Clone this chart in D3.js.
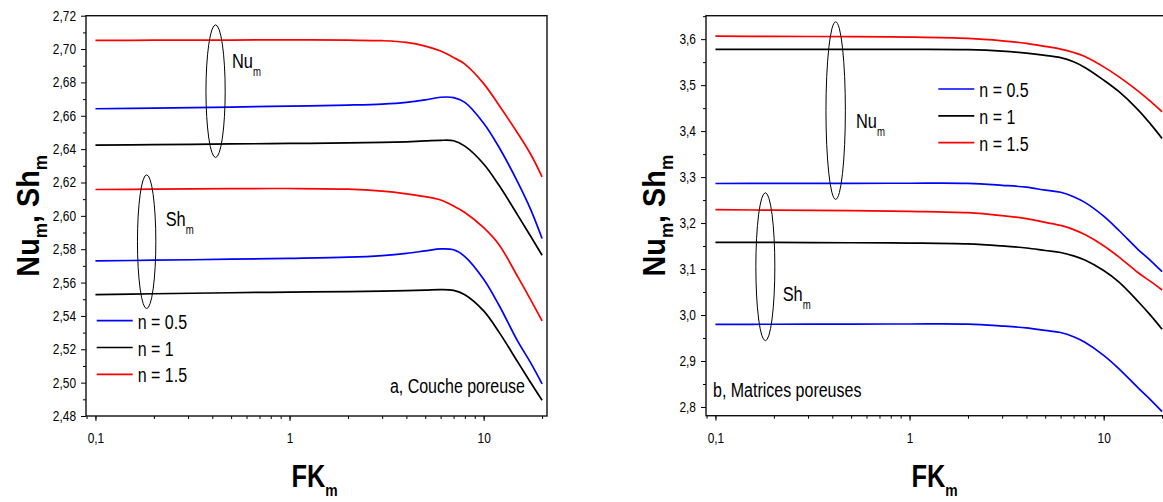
<!DOCTYPE html>
<html>
<head>
<meta charset="utf-8">
<script src="https://cdn.jsdelivr.net/npm/d3@7"></script>
<style>
  body { margin: 0; background: #fff; }
  svg { display: block; font-family: "Liberation Sans", Arial, sans-serif; }
</style>
</head>
<body>
<div id="chart"></div>
<script>
// FK_m sample points (x axis, log scale)
const fkValues = [0.1, 0.2, 0.5, 1, 2, 3, 4, 5, 6, 7, 8, 10, 12, 15, 17.5, 20];

// panel a, Couche poreuse
const nuA_05 = [2.6642, 2.6646, 2.6652, 2.6658, 2.6664, 2.6670, 2.6680, 2.6695, 2.6711, 2.6709, 2.6680, 2.6555, 2.6411, 2.6201, 2.6036, 2.5864];
const nuA_1  = [2.6424, 2.6427, 2.6431, 2.6434, 2.6437, 2.6440, 2.6444, 2.6449, 2.6453, 2.6450, 2.6418, 2.6311, 2.6183, 2.6003, 2.5876, 2.5764];
const nuA_15 = [2.7052, 2.7053, 2.7054, 2.7055, 2.7053, 2.7050, 2.7040, 2.7018, 2.6988, 2.6949, 2.6910, 2.6793, 2.6663, 2.6494, 2.6368, 2.6234];
const shA_05 = [2.5730, 2.5734, 2.5740, 2.5745, 2.5752, 2.5762, 2.5775, 2.5790, 2.5802, 2.5797, 2.5756, 2.5620, 2.5464, 2.5247, 2.5117, 2.4993];
const shA_1  = [2.5528, 2.5533, 2.5539, 2.5543, 2.5546, 2.5549, 2.5552, 2.5555, 2.5558, 2.5553, 2.5527, 2.5430, 2.5303, 2.5123, 2.4999, 2.4894];
const shA_15 = [2.6158, 2.6160, 2.6163, 2.6164, 2.6160, 2.6148, 2.6132, 2.6115, 2.6095, 2.6059, 2.6020, 2.5929, 2.5827, 2.5634, 2.5495, 2.5370];

// panel b, Matrices poreuses
const nuB_05 = [3.2860, 3.2862, 3.2864, 3.2866, 3.2862, 3.2820, 3.2780, 3.2715, 3.2670, 3.2574, 3.2450, 3.2150, 3.1838, 3.1430, 3.1180, 3.0942];
const nuB_1  = [3.5776, 3.5776, 3.5776, 3.5776, 3.5770, 3.5740, 3.5697, 3.5648, 3.5598, 3.5508, 3.5385, 3.5110, 3.4857, 3.4469, 3.4147, 3.3840];
const nuB_15 = [3.6065, 3.6060, 3.6055, 3.6045, 3.6015, 3.5963, 3.5907, 3.5841, 3.5784, 3.5710, 3.5622, 3.5397, 3.5180, 3.4875, 3.4640, 3.4420];
const shB_05 = [2.9797, 2.9799, 2.9802, 2.9805, 2.9802, 2.9760, 2.9719, 2.9664, 2.9619, 2.9528, 2.9406, 2.9123, 2.8830, 2.8420, 2.8150, 2.7900];
const shB_1  = [3.1580, 3.1578, 3.1572, 3.1565, 3.1546, 3.1502, 3.1458, 3.1403, 3.1359, 3.1286, 3.1195, 3.0967, 3.0715, 3.0300, 2.9986, 2.9689];
const shB_15 = [3.2290, 3.2280, 3.2270, 3.2255, 3.2225, 3.2161, 3.2096, 3.2015, 3.1948, 3.1857, 3.1750, 3.1508, 3.1260, 3.0925, 3.0725, 3.0543];

const seriesNames = ["n = 0.5", "n = 1", "n = 1.5"];
const seriesColors = ["#0000ff", "#000000", "#ff0000"];

const xTickLabels = [0.1, 1, 10];
const yTicksA = [2.48, 2.50, 2.52, 2.54, 2.56, 2.58, 2.60, 2.62, 2.64, 2.66, 2.68, 2.70, 2.72];
const yTicksB = [2.8, 2.9, 3.0, 3.1, 3.2, 3.3, 3.4, 3.5, 3.6];

const W = 1163, H = 502;
const svg = d3.select("#chart").append("svg")
  .attr("width", W).attr("height", H);

const comma = s => s.replace(".", ",");

function drawPanel(p) {
  const w = p.x1 - p.x0, h = p.y1 - p.y0;
  const g = svg.append("g").attr("transform", `translate(${p.x0},${p.y0})`);

  const x = d3.scaleLog().domain([0.0894, 21.2]).range([0, w]);
  const y = d3.scaleLinear().domain(p.yDomain).range([h, 0]);

  // x axis: minor + major ticks
  g.append("g").attr("transform", `translate(0,${h})`)
    .call(d3.axisBottom(x).tickValues(x.ticks()).tickSize(3).tickFormat(""))
    .call(a => a.select(".domain").remove());
  const xa = g.append("g").attr("transform", `translate(0,${h})`)
    .call(d3.axisBottom(x).tickValues(xTickLabels).tickSize(5).tickPadding(12)
      .tickFormat(d => comma(String(d))));
  xa.select(".domain").remove();
  xa.selectAll("text").attr("font-size", 14).attr("transform", "scale(0.85,1)");

  // y axis
  g.append("g")
    .call(d3.axisLeft(y).tickValues(p.yMinor).tickSize(3).tickFormat(""))
    .call(a => a.select(".domain").remove());
  const ya = g.append("g")
    .call(d3.axisLeft(y).tickValues(p.yTicks).tickSize(5)
      .tickFormat(d => comma(d3.format(p.yFmt)(d))));
  ya.select(".domain").remove();
  ya.selectAll("text").attr("font-size", 14).attr("x", null)
    .attr("transform", "translate(-10,0) scale(0.85,1)");
  g.selectAll(".tick line").attr("stroke", "#000").attr("stroke-width", 1);

  // frame
  g.append("rect").attr("width", w).attr("height", h)
    .attr("fill", "none").attr("stroke", "#111").attr("stroke-width", 1.4);

  // curves
  const line = d3.line()
    .x((d, i) => x(fkValues[i]))
    .y(d => y(d))
    .curve(d3.curveCatmullRom.alpha(0.5));
  p.series.forEach(s => {
    g.append("path").datum(s.values)
      .attr("fill", "none")
      .attr("stroke", seriesColors[s.k])
      .attr("stroke-width", 1.7)
      .attr("d", line);
  });

  // ellipses grouping Nu / Sh
  p.ellipses.forEach(e => {
    const xa0 = x(e.fk[0]), xa1 = x(e.fk[1]);
    const ya0 = y(e.v[0]), ya1 = y(e.v[1]);
    g.append("ellipse")
      .attr("cx", (xa0 + xa1) / 2).attr("cy", (ya0 + ya1) / 2)
      .attr("rx", Math.abs(xa1 - xa0) / 2).attr("ry", Math.abs(ya1 - ya0) / 2)
      .attr("fill", "none").attr("stroke", "#000").attr("stroke-width", 1);
    const t = g.append("text")
      .attr("transform", `translate(${x(e.labelAt[0])},${y(e.labelAt[1])}) scale(0.8,1)`)
      .attr("font-size", 20.5);
    t.append("tspan").text(e.label);
    t.append("tspan").attr("font-size", 12).attr("dy", 8).text("m");
  });

  // legend
  seriesNames.forEach((n, i) => {
    const ly = p.legend[1] + i * 26.8;
    g.append("line")
      .attr("x1", p.legend[0]).attr("x2", p.legend[0] + 36)
      .attr("y1", ly).attr("y2", ly)
      .attr("stroke", seriesColors[i]).attr("stroke-width", 1.7);
    g.append("text")
      .attr("transform", `translate(${p.legend[0] + 41},${ly + 8}) scale(0.82,1)`)
      .attr("font-size", 19.5).text(n);
  });

  // panel note
  g.append("text")
    .attr("transform", `translate(${p.note[0]},${p.note[1]}) scale(0.82,1)`)
    .attr("text-anchor", p.noteAnchor)
    .attr("font-size", 19.5).text(p.noteText);

  // axis titles
  const xt = g.append("text")
    .attr("transform", `translate(${w / 2 - 25},${h + 71}) scale(0.82,1)`)
    .attr("font-size", 31).attr("font-weight", "bold");
  xt.append("tspan").text("FK");
  xt.append("tspan").attr("font-size", 17).attr("dy", 9).text("m");

  const yt = g.append("text")
    .attr("transform", `translate(${p.yTitleX},${h / 2}) rotate(-90) scale(0.9,1)`)
    .attr("text-anchor", "middle")
    .attr("font-size", 32).attr("font-weight", "bold");
  yt.append("tspan").text("Nu");
  yt.append("tspan").attr("font-size", 19).attr("dy", 8).text("m");
  yt.append("tspan").attr("dy", -8).text(", Sh");
  yt.append("tspan").attr("font-size", 19).attr("dy", 8).text("m");
}

drawPanel({
  x0: 86, x1: 547, y0: 15.7, y1: 416,
  yDomain: [2.48, 2.72], yTicks: yTicksA,
  yMinor: d3.range(2.49, 2.72, 0.02), yFmt: ".2f",
  series: [
    { k: 0, values: nuA_05 }, { k: 1, values: nuA_1 }, { k: 2, values: nuA_15 },
    { k: 0, values: shA_05 }, { k: 1, values: shA_1 }, { k: 2, values: shA_15 }
  ],
  ellipses: [
    { fk: [0.371, 0.466], v: [2.635, 2.7145], label: "Nu", labelAt: [0.505, 2.6884] },
    { fk: [0.1646, 0.2047], v: [2.5444, 2.6246], label: "Sh", labelAt: [0.230, 2.5938] }
  ],
  legend: [10.7, 305],
  note: [439, 377], noteAnchor: "end", noteText: "a, Couche poreuse",
  yTitleX: -47
});

drawPanel({
  x0: 706, x1: 1167, y0: 15.7, y1: 415.7,
  yDomain: [2.781, 3.651], yTicks: yTicksB,
  yMinor: d3.range(2.85, 3.651, 0.1), yFmt: ".1f",
  series: [
    { k: 0, values: nuB_05 }, { k: 1, values: nuB_1 }, { k: 2, values: nuB_15 },
    { k: 0, values: shB_05 }, { k: 1, values: shB_1 }, { k: 2, values: shB_15 }
  ],
  ellipses: [
    { fk: [0.371, 0.467], v: [3.2515, 3.6376], label: "Nu", labelAt: [0.530, 3.4072] },
    { fk: [0.1615, 0.2023], v: [2.9441, 3.2659], label: "Sh", labelAt: [0.222, 3.0315] }
  ],
  legend: [232.3, 73.3],
  note: [7, 381], noteAnchor: "start", noteText: "b, Matrices poreuses",
  yTitleX: -41
});
</script>
</body>
</html>
